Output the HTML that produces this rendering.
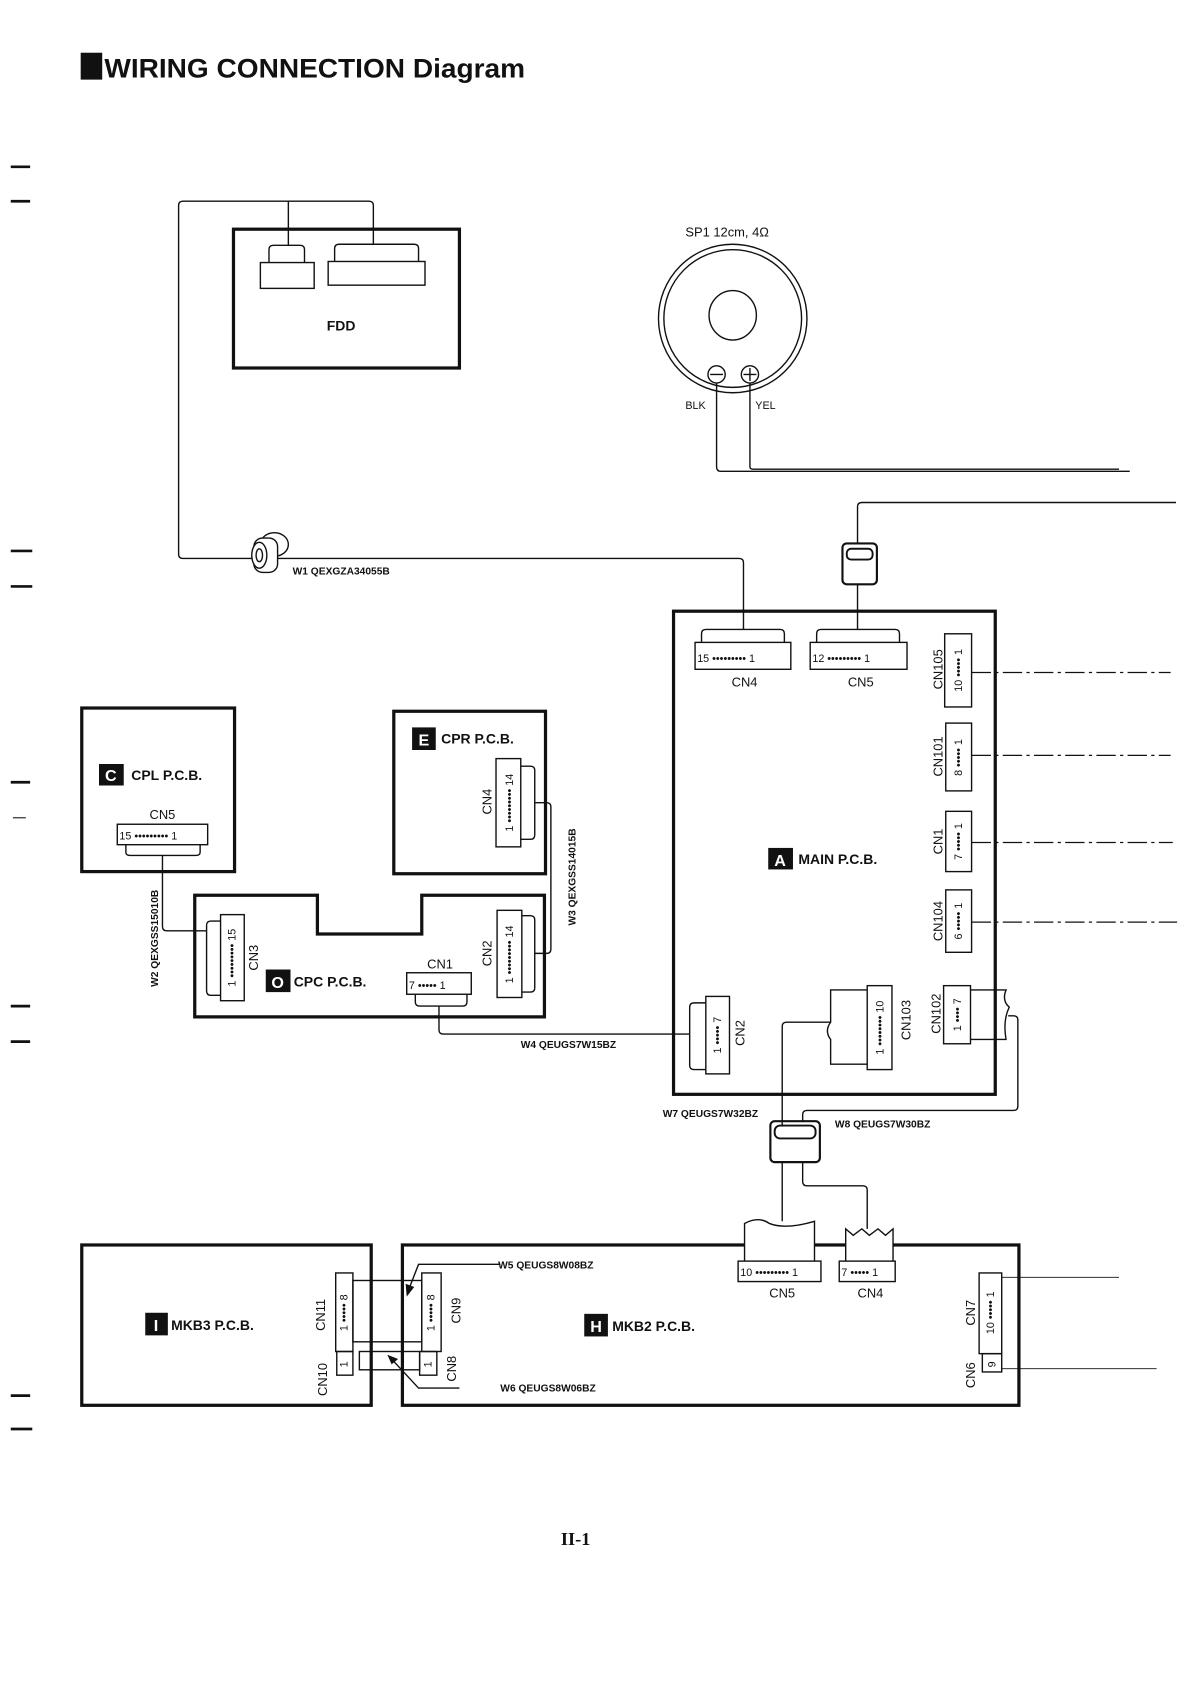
<!DOCTYPE html>
<html><head><meta charset="utf-8"><style>
html,body{margin:0;padding:0;background:#fff}
svg{display:block}
text{font-family:"Liberation Sans",Arial,sans-serif;fill:#111}
.b{font-weight:bold}
</style></head><body>
<svg width="1190" height="1684" viewBox="0 0 1106 1565" preserveAspectRatio="none" xmlns="http://www.w3.org/2000/svg">
<g fill="none" stroke="#111" stroke-width="1.3">
<g stroke-width="2.5">
<line x1="10" y1="155" x2="28" y2="155"/><line x1="10" y1="187" x2="28" y2="187"/>
<line x1="10" y1="512" x2="30" y2="512"/><line x1="10" y1="545" x2="30" y2="545"/>
<line x1="10" y1="727" x2="28" y2="727"/><line x1="10" y1="935" x2="28" y2="935"/>
<line x1="10" y1="968" x2="28" y2="968"/><line x1="10" y1="1297" x2="28" y2="1297"/>
<line x1="10" y1="1328" x2="30" y2="1328"/>
</g>
<line x1="12" y1="760" x2="24" y2="760" stroke-width="1"/>

<rect x="217" y="213" width="210" height="129" stroke-width="3"/>
<path d="M250,244 V232 Q250,228 254,228 H279 Q283,228 283,232 V244"/>
<rect x="242" y="244" width="50" height="24"/>
<path d="M311,243 V231 Q311,227 315,227 H385 Q389,227 389,231 V243"/>
<rect x="305" y="243" width="90" height="22"/>
<path d="M268,228 V187 M347,227 V191 Q347,187 343,187 H170 Q166,187 166,191 V515 Q166,519 170,519 H687 Q691,519 691,523 V585"/>
<ellipse cx="255" cy="506" rx="13" ry="11" fill="#fff"/>
<rect x="236" y="500" width="22" height="32" rx="8" fill="#fff"/>
<ellipse cx="241" cy="516" rx="7" ry="12" fill="#fff"/>
<ellipse cx="241" cy="516" rx="3" ry="6"/>

<circle cx="681" cy="296" r="69"/><circle cx="681" cy="296" r="64"/>
<ellipse cx="681" cy="293" rx="22" ry="23"/>
<circle cx="666" cy="348" r="8" fill="#fff"/><circle cx="697" cy="348" r="8" fill="#fff"/>
<line x1="660" y1="348" x2="672" y2="348"/><line x1="691" y1="348" x2="703" y2="348"/><line x1="697" y1="342" x2="697" y2="354"/>
<path d="M666,356 V434 Q666,438 670,438 H1050 M697,356 V434 Q697,436 700,436 H1040"/>
<path d="M1093,467 H801 Q797,467 797,471 V505 M797,543 V585"/>
<rect x="783" y="505" width="32" height="38" rx="4" stroke-width="2"/>
<rect x="787" y="510" width="24" height="10" rx="4" stroke-width="1.8"/>

<rect x="626" y="568" width="299" height="449" stroke-width="3"/>
<path d="M652,597 V589 Q652,585 656,585 H725 Q729,585 729,589 V597"/>
<rect x="646" y="597" width="89" height="25"/>
<path d="M759,597 V589 Q759,585 763,585 H832 Q836,585 836,589 V597"/>
<rect x="753" y="597" width="90" height="25"/>
<rect x="878" y="589" width="25" height="68"/>
<rect x="879" y="672" width="24" height="63"/>
<rect x="879" y="754" width="24" height="56"/>
<rect x="879" y="827" width="24" height="58"/>
<g stroke-dasharray="18,4,3,4" stroke-width="1.2">
<line x1="903" y1="625" x2="1088" y2="625"/><line x1="903" y1="702" x2="1088" y2="702"/>
<line x1="903" y1="783" x2="1090" y2="783"/><line x1="903" y1="857" x2="1094" y2="857"/>
</g>
<rect x="656" y="926" width="22" height="72"/>
<path d="M656,932 H645 Q641,932 641,936 V990 Q641,994 645,994 H656"/>
<path d="M641,961 H412 Q408,961 408,957 V935"/>
<rect x="806" y="916" width="23" height="78"/>
<path d="M806,920 H772 V950 Q766,958 772,966 V989 H806"/>
<rect x="877" y="916" width="25" height="54"/>
<path d="M902,920 H935 Q931,930 938,936 Q932,948 935,966 H902"/>
<path d="M937,944 H942 Q946,944 946,948 V1028 Q946,1032 942,1032 H750 Q746,1032 746,1036 V1042"/>
<path d="M772,950 H731 Q727,950 727,954 V1047"/>
<rect x="716" y="1042" width="46" height="38" rx="4" stroke-width="2"/>
<rect x="720" y="1046" width="38" height="12" rx="5" stroke-width="1.8"/>
<path d="M727,1080 V1135 M746,1080 V1098 Q746,1102 750,1102 H802 Q806,1102 806,1106 V1142"/>

<rect x="76" y="658" width="142" height="152" stroke-width="3"/>
<rect x="109" y="766" width="84" height="19"/>
<path d="M117,785 V792 Q117,795 121,795 H182 Q186,795 186,792 V785 M151,795 V861 Q151,865 155,865 H192"/>
<rect x="366" y="661" width="141" height="151" stroke-width="3"/>
<rect x="461" y="705" width="23" height="82"/>
<path d="M484,712 H493 Q497,712 497,716 V776 Q497,780 493,780 H484 M497,746 H508 Q512,746 512,750 V882 Q512,886 508,886 H497"/>
<path d="M181,832 H295 V868 H392 V832 H506 V945 H181 Z" stroke-width="3"/>
<rect x="205" y="850" width="22" height="80"/>
<path d="M205,856 H196 Q192,856 192,860 V921 Q192,925 196,925 H205"/>
<rect x="378" y="904" width="60" height="20"/>
<path d="M386,924 V931 Q386,935 390,935 H430 Q434,935 434,931 V924"/>
<rect x="462" y="846" width="23" height="81"/>
<path d="M485,851 H493 Q497,851 497,855 V918 Q497,922 493,922 H485"/>

<rect x="76" y="1157" width="269" height="149" stroke-width="3"/>
<rect x="374" y="1157" width="573" height="149" stroke-width="3"/>
<path d="M692,1191 V1137 Q705,1130 715,1137 Q730,1143 757,1135 V1172" fill="#fff"/>
<path d="M786,1172 V1142 L793,1148 L801,1142 L808,1148 L816,1142 L823,1148 L830,1142 V1172" fill="#fff"/>
<rect x="686" y="1172" width="77" height="19" fill="#fff"/>
<rect x="780" y="1172" width="52" height="19" fill="#fff"/>
<rect x="910" y="1183" width="21" height="75"/>
<rect x="913" y="1258" width="18" height="17"/>
<line x1="931" y1="1187" x2="1040" y2="1187" stroke-width="0.8"/>
<line x1="931" y1="1272" x2="1075" y2="1272" stroke-width="0.8"/>
<rect x="312" y="1183" width="16" height="73"/>
<rect x="313" y="1256" width="15" height="22"/>
<rect x="392" y="1183" width="18" height="73"/>
<rect x="390" y="1256" width="16" height="22"/>
<rect x="328" y="1190" width="64" height="57"/>
<rect x="334" y="1256" width="56" height="17"/>
<path d="M465,1175 H389 L380,1198"/>
<path d="M427,1290 H389 L363,1262"/>
</g>
<g fill="#111">
<path d="M378,1205 L377,1193 L385,1196 Z"/>
<path d="M360,1259 L370,1263 L364,1268 Z"/>
<rect x="75" y="49" width="20" height="25"/>
<rect x="92" y="710" width="23" height="20"/>
<rect x="383" y="676" width="22" height="21"/>
<rect x="247" y="901" width="23" height="21"/>
<rect x="714" y="788" width="23" height="20"/>
<rect x="135" y="1220" width="21" height="21"/>
<rect x="543" y="1221" width="22" height="21"/>
</g>
<text x="97" y="72" class="b" font-size="25" textLength="391" lengthAdjust="spacingAndGlyphs">WIRING CONNECTION Diagram</text>
<text x="317" y="307" class="b" font-size="13" text-anchor="middle">FDD</text>
<text x="637" y="220" font-size="12">SP1  12cm, 4Ω</text>
<text x="637" y="380" font-size="10">BLK</text><text x="702" y="380" font-size="10">YEL</text>
<text x="272" y="534" font-size="9.5" class="b">W1 QEXGZA34055B</text>
<g font-weight="bold" font-size="15" text-anchor="middle">
<text x="103" y="726" style="fill:#fff">C</text><text x="394" y="693" style="fill:#fff">E</text>
<text x="258" y="918" style="fill:#fff">O</text><text x="725" y="805" style="fill:#fff">A</text>
<text x="145" y="1237" style="fill:#fff">I</text><text x="554" y="1238" style="fill:#fff">H</text>
</g>
<g class="b" font-size="13">
<text x="122" y="725">CPL P.C.B.</text><text x="410" y="691">CPR P.C.B.</text>
<text x="273" y="917">CPC P.C.B.</text><text x="742" y="803">MAIN P.C.B.</text>
<text x="159" y="1236">MKB3 P.C.B.</text><text x="569" y="1237">MKB2 P.C.B.</text>
</g>
<g font-size="12" text-anchor="middle">
<text x="151" y="761">CN5</text><text x="409" y="900">CN1</text>
<text x="692" y="638">CN4</text><text x="800" y="638">CN5</text>
<text x="727" y="1206">CN5</text><text x="809" y="1206">CN4</text>
</g>
<g font-size="10">
<text x="111" y="780">15 ••••••••• 1</text><text x="380" y="919">7 ••••• 1</text>
<text x="648" y="615">15 ••••••••• 1</text><text x="755" y="615">12 ••••••••• 1</text>
<text x="688" y="1186">10 ••••••••• 1</text><text x="782" y="1186">7 ••••• 1</text>
</g>
<g font-size="10" text-anchor="middle">
<text transform="translate(219,890) rotate(-90)">1 ••••••••• 15</text>
<text transform="translate(477,746) rotate(-90)">1 ••••••••• 14</text>
<text transform="translate(477,887) rotate(-90)">1 ••••••••• 14</text>
<text transform="translate(894,623) rotate(-90)">10 ••••• 1</text>
<text transform="translate(894,704) rotate(-90)">8 ••••• 1</text>
<text transform="translate(894,782) rotate(-90)">7 ••••• 1</text>
<text transform="translate(894,856) rotate(-90)">6 ••••• 1</text>
<text transform="translate(670,962) rotate(-90)">1 ••••• 7</text>
<text transform="translate(821,955) rotate(-90)">1 •••••••• 10</text>
<text transform="translate(893,943) rotate(-90)">1 •••• 7</text>
<text transform="translate(924,1220) rotate(-90)">10 ••••• 1</text>
<text transform="translate(925,1268) rotate(-90)">9</text>
<text transform="translate(323,1220) rotate(-90)">1 ••••• 8</text>
<text transform="translate(323,1268) rotate(-90)">1</text>
<text transform="translate(404,1220) rotate(-90)">1 ••••• 8</text>
<text transform="translate(401,1268) rotate(-90)">1</text>
</g>
<g font-size="12" text-anchor="middle">
<text transform="translate(240,890) rotate(-90)">CN3</text>
<text transform="translate(457,745) rotate(-90)">CN4</text>
<text transform="translate(457,886) rotate(-90)">CN2</text>
<text transform="translate(876,622) rotate(-90)">CN105</text>
<text transform="translate(876,703) rotate(-90)">CN101</text>
<text transform="translate(876,782) rotate(-90)">CN1</text>
<text transform="translate(876,856) rotate(-90)">CN104</text>
<text transform="translate(692,960) rotate(-90)">CN2</text>
<text transform="translate(846,948) rotate(-90)">CN103</text>
<text transform="translate(874,942) rotate(-90)">CN102</text>
<text transform="translate(906,1220) rotate(-90)">CN7</text>
<text transform="translate(906,1278) rotate(-90)">CN6</text>
<text transform="translate(302,1222) rotate(-90)">CN11</text>
<text transform="translate(304,1282) rotate(-90)">CN10</text>
<text transform="translate(428,1218) rotate(-90)">CN9</text>
<text transform="translate(424,1272) rotate(-90)">CN8</text>
</g>
<g font-size="9.5" class="b">
<text transform="translate(147,872) rotate(-90)" text-anchor="middle">W2  QEXGSS15010B</text>
<text transform="translate(535,815) rotate(-90)" text-anchor="middle">W3  QEXGSS14015B</text>
<text x="484" y="974">W4   QEUGS7W15BZ</text>
<text x="616" y="1038">W7   QEUGS7W32BZ</text>
<text x="776" y="1048">W8   QEUGS7W30BZ</text>
<text x="463" y="1179">W5 QEUGS8W08BZ</text>
<text x="465" y="1293">W6 QEUGS8W06BZ</text>
</g>
<text x="535" y="1436" font-size="17" class="b" text-anchor="middle" style="font-family:'Liberation Serif',serif">II-1</text>
</svg>
</body></html>
